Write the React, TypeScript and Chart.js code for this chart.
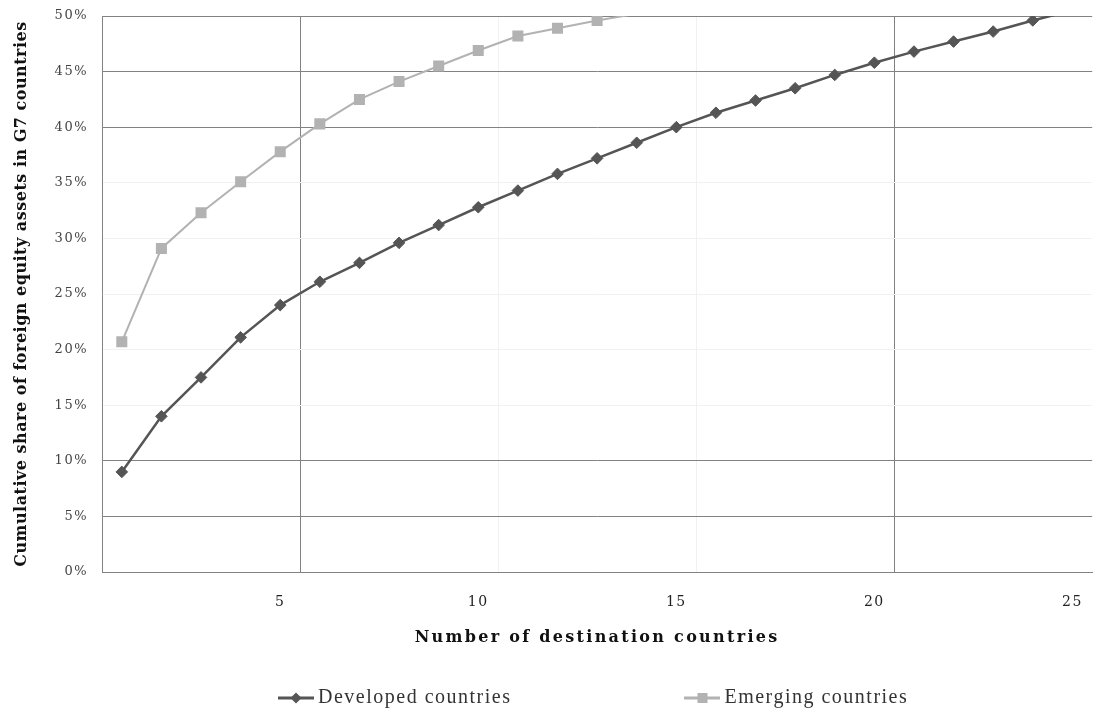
import React, { useEffect, useRef } from 'react';
import { Chart, registerables } from 'chart.js';

Chart.register(...registerables);

// ---- data ----
const countries = ['1', '2', '3', '4', '5', '6', '7', '8', '9', '10', '11', '12', '13', '14', '15', '16', '17', '18', '19', '20', '21', '22', '23', '24', '25'];
const xTickLabels = ['5', '10', '15', '20', '25'];
const developed = [9.0, 14.0, 17.5, 21.1, 24.0, 26.1, 27.8, 29.6, 31.2, 32.8, 34.3, 35.8, 37.2, 38.6, 40.0, 41.3, 42.4, 43.5, 44.7, 45.8, 46.8, 47.7, 48.6, 49.6, 50.5];
const emerging = [20.7, 29.1, 32.3, 35.1, 37.8, 40.3, 42.5, 44.1, 45.5, 46.9, 48.2, 48.9, 49.6, 50.2];
const seriesLabels = ['Developed countries', 'Emerging countries'];
const yMin = 0;
const yMax = 50;
const yStep = 5;

// ---- styles ----
const DEV_COLOR = '#555555';
const EMG_COLOR = '#b2b2b2';
const GRID_COLOR = '#828282';
const FAINT_GRID = '#f1f1f1';
const LEGEND_FONT_SIZE = 20;
const LEGEND_PAD = 179;
const LEGEND_CENTER_Y = 698;
const LEGEND_X = 284;

function makeIcon(color: string, shape: 'diamond' | 'square') {
  const c = document.createElement('canvas');
  c.width = 36;
  c.height = 14;
  const g = c.getContext('2d') as CanvasRenderingContext2D;
  g.strokeStyle = color;
  g.lineWidth = 3;
  g.beginPath();
  g.moveTo(0, 7);
  g.lineTo(36, 7);
  g.stroke();
  g.fillStyle = color;
  if (shape === 'diamond') {
    g.beginPath();
    g.moveTo(12.5, 7);
    g.lineTo(18, 1.5);
    g.lineTo(23.5, 7);
    g.lineTo(18, 12.5);
    g.closePath();
    g.fill();
  } else {
    g.fillRect(13, 2, 10, 10);
  }
  return c;
}

const titleSpacing: Record<string, string> = { x: '2.3px', y: '0.5px' };

const textStylePlugin = {
  id: 'textStyle',
  beforeUpdate(chart: any) {
    chart.ctx.letterSpacing = '1.5px';
  },
  beforeDraw(chart: any) {
    chart.ctx.letterSpacing = '1.5px';
    const lg = chart.legend;
    if (lg) {
      lg.top = LEGEND_CENTER_Y - LEGEND_FONT_SIZE / 2 - LEGEND_PAD;
      const lw = lg.lineWidths ? lg.lineWidths[0] : 0;
      const w = lg.width;
      const left = (2 * LEGEND_X - LEGEND_PAD + lw - w) / 2;
      lg.left = left;
      lg.right = left + w;
    }
    for (const id of ['x', 'y']) {
      const s: any = chart.scales[id];
      if (s && !s._lsPatched) {
        const orig = s.drawTitle;
        s.drawTitle = function (this: any) {
          const c = this.ctx;
          const prev = c.letterSpacing;
          c.letterSpacing = titleSpacing[id];
          orig.call(this);
          c.letterSpacing = prev;
        };
        s._lsPatched = true;
      }
    }
  },
};

const hideAboveMax = (r: number) => (ctx: any) => (ctx.raw > yMax ? 0 : r);

export default function App() {
  const ref = useRef<HTMLCanvasElement>(null);

  useEffect(() => {
    if (!ref.current) return;
    const icons = [makeIcon(DEV_COLOR, 'diamond'), makeIcon(EMG_COLOR, 'square')];
    const chart = new Chart(ref.current, {
      type: 'line',
      data: {
        labels: countries,
        datasets: [
          {
            label: seriesLabels[0],
            data: developed,
            borderColor: DEV_COLOR,
            backgroundColor: DEV_COLOR,
            borderWidth: 2.5,
            pointStyle: 'rectRot',
            pointRadius: hideAboveMax(5.8),
            pointBackgroundColor: DEV_COLOR,
            pointBorderColor: DEV_COLOR,
            pointBorderWidth: 1,
            tension: 0,
            clip: 0,
          },
          {
            label: seriesLabels[1],
            data: emerging,
            borderColor: EMG_COLOR,
            backgroundColor: EMG_COLOR,
            borderWidth: 2,
            pointStyle: 'rect',
            pointRadius: hideAboveMax(7.8),
            pointBackgroundColor: EMG_COLOR,
            pointBorderColor: EMG_COLOR,
            pointBorderWidth: 0,
            tension: 0,
            clip: 0,
          },
        ],
      },
      options: {
        animation: false,
        responsive: true,
        maintainAspectRatio: false,
        layout: { padding: { top: 16, right: 2, left: 0, bottom: 0 } },
        plugins: {
          tooltip: { enabled: false },
          legend: {
            position: 'bottom',
            fullSize: true,
            maxHeight: 69,
            labels: {
              usePointStyle: true,
              pointStyleWidth: 24,
              padding: LEGEND_PAD,
              color: '#333333',
              font: { family: '"Liberation Serif", serif', size: LEGEND_FONT_SIZE },
              generateLabels: (ch: any) =>
                ch.data.datasets.map((ds: any, i: number) => ({
                  text: ds.label,
                  pointStyle: icons[i],
                  fillStyle: ds.borderColor,
                  strokeStyle: ds.borderColor,
                  lineWidth: 0,
                  hidden: false,
                  datasetIndex: i,
                  fontColor: '#333333',
                })),
            },
          },
        },
        scales: {
          x: {
            type: 'category',
            offset: true,
            afterFit: (s: any) => {
              s.height = 75;
              s.paddingLeft = 0;
              s.paddingRight = 0;
            },
            grid: {
              offset: true,
              drawTicks: false,
              lineWidth: 1,
              color: (ctx: any) => {
                const i = ctx.index;
                if (i === 5 || i === 20) return GRID_COLOR;
                if (i === 10 || i === 15) return FAINT_GRID;
                return 'rgba(0,0,0,0)';
              },
            },
            border: { display: true, color: GRID_COLOR, width: 1 },
            ticks: {
              autoSkip: false,
              maxRotation: 0,
              padding: 22,
              color: '#222222',
              font: { family: '"DejaVu Serif", serif', size: 14 },
              callback: (_v: any, i: number) => (xTickLabels.includes(countries[i]) ? countries[i] : ''),
            },
            title: {
              display: true,
              text: 'Number of destination countries',
              color: '#111111',
              font: { family: '"DejaVu Serif", serif', size: 16, weight: 'bold' },
              padding: { top: 0, bottom: 0 },
            },
          },
          y: {
            min: yMin,
            max: yMax,
            afterFit: (s: any) => {
              s.width = 102;
              s.paddingTop = 0;
              s.paddingBottom = 0;
            },
            grid: {
              drawTicks: false,
              lineWidth: 1,
              color: (ctx: any) => {
                const v = ctx.tick ? ctx.tick.value : 0;
                return v >= 15 && v <= 35 ? FAINT_GRID : GRID_COLOR;
              },
            },
            border: { display: true, color: GRID_COLOR, width: 1 },
            ticks: {
              stepSize: yStep,
              padding: 14,
              color: '#444444',
              font: { family: '"DejaVu Serif", serif', size: 13 },
              callback: (v: any) => `${v}%`,
            },
            title: {
              display: true,
              text: 'Cumulative share of foreign equity assets in G7 countries',
              color: '#111111',
              font: { family: '"DejaVu Serif", serif', size: 16, weight: 'bold' },
              padding: { top: 12, bottom: 0 },
            },
          },
        },
      },
      plugins: [textStylePlugin],
    } as any);
    return () => chart.destroy();
  }, []);

  return (
    <div style={{ position: 'fixed', left: 0, top: 0, width: 1093, height: 716, overflow: 'hidden', background: '#ffffff' }}>
      <div style={{ position: 'relative', width: 1100, height: 716 }}>
        <canvas ref={ref} />
      </div>
    </div>
  );
}
